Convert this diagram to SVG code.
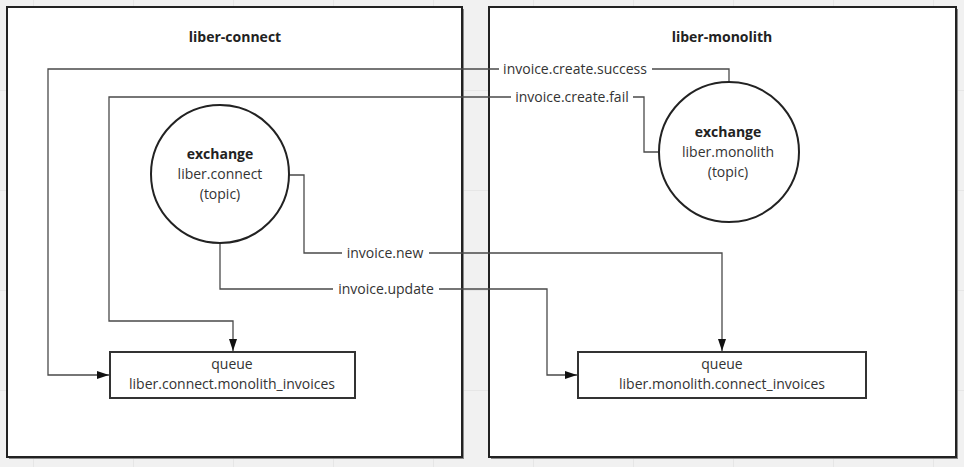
<svg xmlns="http://www.w3.org/2000/svg" width="964" height="467" viewBox="0 0 964 467">
<defs>
<pattern id="grid" x="33" y="-10" width="100" height="100" patternUnits="userSpaceOnUse">
<path d="M0.5 0 V100 M0 0.5 H100" fill="none" stroke="#e6e6e6" stroke-width="1"/>
</pattern>
<marker id="arr" viewBox="0 0 12 8" refX="12" refY="4" markerWidth="12" markerHeight="8" markerUnits="userSpaceOnUse" orient="auto">
<path d="M0 0 L12 4 L0 8 Z" fill="#111"/>
</marker>
<style>
.cont{fill:#fff;stroke:#222;stroke-width:2}
.shadow{fill:#8a8a8a}
.title{font-family:"Open Sans","DejaVu Sans",sans-serif;font-size:14px;font-weight:bold;fill:#222;text-anchor:middle}
.t{font-family:"Open Sans","DejaVu Sans",sans-serif;font-size:14px;fill:#333;text-anchor:middle}
.b{font-weight:bold;fill:#222}
.circ{fill:#fff;stroke:#222;stroke-width:2}
.q{fill:#fff;stroke:#333;stroke-width:2}
.ln{fill:none;stroke:#4a4a4a;stroke-width:1.3}
.lbg{fill:#fff}
</style>
</defs>
<rect width="964" height="467" fill="#f1f1f1"/>
<rect width="964" height="467" fill="url(#grid)"/>

<g id="liber-connect">
<rect class="shadow" x="9" y="9" width="455" height="450"/>
<rect class="cont" x="7" y="7" width="455" height="450"/>
<text class="title" x="235" y="42">liber-connect</text>
</g>
<g id="liber-monolith">
<rect class="shadow" x="491" y="9" width="467" height="450"/>
<rect class="cont" x="489" y="7" width="467" height="450"/>
<text class="title" x="722" y="42">liber-monolith</text>
</g>

<g id="connectors">
<path class="ln" d="M729 82 V69 H48 V375 H109" marker-end="url(#arr)"/>
<path class="ln" d="M658 152 H644 V97 H109 V321 H233 V351" marker-end="url(#arr)"/>
<path class="ln" d="M289 175 H304 V253 H722 V351" marker-end="url(#arr)"/>
<path class="ln" d="M220 243 V289 H547 V375 H577" marker-end="url(#arr)"/>
<rect class="lbg" x="499" y="59" width="153" height="20"/>
<text class="t" x="575" y="74">invoice.create.success</text>
<rect class="lbg" x="511" y="87" width="122" height="20"/>
<text class="t" x="572" y="102">invoice.create.fail</text>
<rect class="lbg" x="342" y="243" width="87" height="20"/>
<text class="t" x="385" y="258">invoice.new</text>
<rect class="lbg" x="333" y="279" width="106" height="20"/>
<text class="t" x="386" y="294">invoice.update</text>
</g>

<g id="exchange-connect">
<circle class="circ" cx="220" cy="174" r="69"/>
<text class="t b" x="220" y="159">exchange</text>
<text class="t" x="220" y="179">liber.connect</text>
<text class="t" x="220" y="199">(topic)</text>
</g>
<g id="exchange-monolith">
<circle class="circ" cx="729" cy="152" r="70"/>
<text class="t b" x="728" y="137">exchange</text>
<text class="t" x="728" y="157">liber.monolith</text>
<text class="t" x="728" y="177">(topic)</text>
</g>
<g id="queue-connect">
<rect class="q" x="110" y="352" width="245" height="46"/>
<text class="t" x="232" y="369">queue</text>
<text class="t" x="232" y="389">liber.connect.monolith_invoices</text>
</g>
<g id="queue-monolith">
<rect class="q" x="578" y="352" width="288" height="46"/>
<text class="t" x="722" y="369">queue</text>
<text class="t" x="722" y="389">liber.monolith.connect_invoices</text>
</g>
</svg>
